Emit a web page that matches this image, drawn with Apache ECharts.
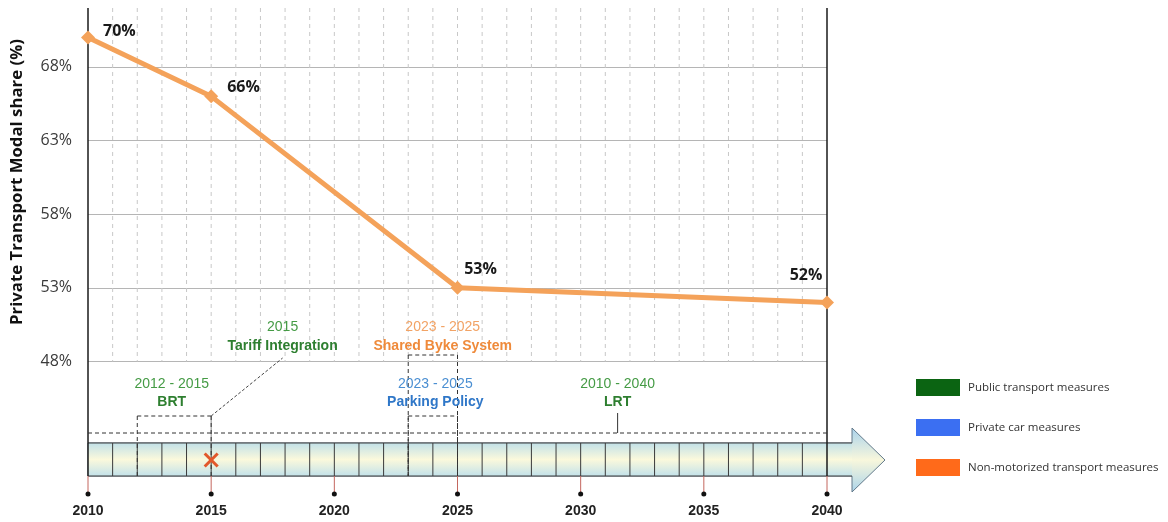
<!DOCTYPE html>
<html>
<head>
<meta charset="utf-8">
<script src="https://cdn.jsdelivr.net/npm/echarts@6/dist/echarts.min.js"></script>
<style>
  html, body { margin: 0; padding: 0; background: #ffffff; }
  #chart { width: 1168px; height: 522px; }
</style>
</head>
<body>
<div id="chart"></div>
<script>
// ---- data ----
const years = [2010, 2015, 2025, 2040];
const modalShare = [70, 66, 53, 52];
const shareTicks = [48, 53, 58, 63, 68];
const yearTicks = [2010, 2015, 2020, 2025, 2030, 2035, 2040];

const measureTypes = ['Public transport measures', 'Private car measures', 'Non-motorized transport measures'];
const measureNames = ['Tariff Integration', 'BRT', 'Shared Byke System', 'Parking Policy', 'LRT'];
const measurePeriods = ['2015', '2012 - 2015', '2023 - 2025', '2023 - 2025', '2010 - 2040'];
const measureStart = [2015, 2012, 2023, 2023, 2010];
const measureEnd = [2015, 2015, 2025, 2025, 2040];
const measureKind = [0, 0, 2, 1, 0];
const crossYears = [2015];

// ---- layout & styling ----
const Y_MIN = 39, Y_MAX = 72;
const typeColors = ['#0b6412', '#3b6ff2', '#ff6a1a'];
const periodColors = ['#459b45', '#4b8fd2', '#f2a365'];
const nameColors = ['#2e7f30', '#2f77c8', '#ef8a3a'];
const lineColor = '#f4a25a';

// label anchor of each measure: [year position, row (0 upper, 1 lower)]
const labelAnchor = [[2017.9, 0], [2013.4, 1], [2024.4, 0], [2024.1, 1], [2031.5, 1]];
// connector style of each measure and its height (px above the timeline base)
const connector = [['leader', -78], ['span', -78], ['span', -139], ['span', -78], ['spanTick', -61]];
// pixel offsets measured upward from the bottom of the plot
const TL = {
  barTop: -51, barBot: -18, headTop: -66, headBot: -2, mid: -34,
  shaftExt: 25, headLen: 58,
  rowPeriod: [-167, -110], rowName: [-148, -92],
  leaderEnd: -136, tickTop: -81
};
// per-point value label placement
const valueLabelPlacement = [
  { position: 'right', offset: [3, -6] },
  { position: 'right', offset: [4, -9] },
  { position: 'top', offset: [23, 2] },
  { position: 'top', offset: [-21, -7] }
];

const chart = echarts.init(document.getElementById('chart'), null, { renderer: 'canvas' });

function vGrad(stops) {
  return new echarts.graphic.LinearGradient(0, 0, 0, 1, stops.map((c, i) => ({ offset: i / (stops.length - 1), color: c })));
}

function renderTimeline(params, api) {
  const first = yearTicks[0], last = yearTicks[yearTicks.length - 1];
  const px = yr => api.coord([yr, Y_MIN])[0];
  const base = api.coord([first, Y_MIN])[1];
  const topY = api.coord([first, Y_MAX])[1];
  const gridFloor = api.coord([first, shareTicks[0]])[1];
  const y = off => base + off;
  const xs = px(first), xe = px(last);
  const g = [];
  const line = (x1, y1, x2, y2, stroke, w, dash) =>
    g.push({ type: 'line', shape: { x1, y1, x2, y2 }, style: { stroke, lineWidth: w, lineDash: dash || null } });

  // yearly guides in the plot area
  for (let yr = first + 1; yr < last; yr++) line(px(yr), topY, px(yr), gridFloor, '#c8c8c8', 1, [4, 4]);

  // timeline arrow
  const shaftEnd = xe + TL.shaftExt, tip = xe + TL.headLen;
  g.push({
    type: 'polygon',
    shape: { points: [[xs, y(TL.barTop)], [shaftEnd, y(TL.barTop)], [shaftEnd, y(TL.headTop)], [tip, y(TL.mid)],
                      [shaftEnd, y(TL.headBot)], [shaftEnd, y(TL.barBot)], [xs, y(TL.barBot)]] },
    style: { fill: vGrad(['#a9d2ec', '#f8f7dc', '#aad3ea']), stroke: '#62798a', lineWidth: 1 }
  });
  g.push({
    type: 'rect',
    shape: { x: xs, y: y(TL.barTop), width: shaftEnd - xs, height: TL.barBot - TL.barTop },
    style: { fill: vGrad(['#c2e1e8', '#fbf9dc', '#c3e2ea']) }
  });
  line(xs, y(TL.barTop), shaftEnd, y(TL.barTop), '#3a3a3a', 1);
  line(xs, y(TL.barBot), shaftEnd, y(TL.barBot), '#3a3a3a', 1);
  for (let yr = first + 1; yr < last; yr++) line(px(yr), y(TL.barTop), px(yr), y(TL.barBot), '#3a3a3a', 1);

  // bounding verticals
  line(xs, topY, xs, y(TL.barBot), '#1a1a1a', 1.5);
  line(xe, topY, xe, y(TL.barBot), '#1a1a1a', 1.5);

  // year ticks below the timeline
  yearTicks.forEach(yr => {
    line(px(yr), y(TL.barBot), px(yr), base, '#c4675f', 1);
    g.push({ type: 'circle', shape: { cx: px(yr), cy: base, r: 2.5 }, style: { fill: '#111' } });
  });

  // connectors between the timeline and each measure label
  measureNames.forEach((name, i) => {
    const [kind, lvl] = connector[i];
    const xa = px(measureStart[i]), xb = px(measureEnd[i]);
    const lx = px(labelAnchor[i][0]);
    if (kind === 'leader') {
      line(xa, y(TL.barTop), xa, y(lvl), '#8a8a8a', 1);
      line(xa, y(lvl), lx, y(TL.leaderEnd), '#444', 1, [3, 2]);
    } else {
      line(xa, y(lvl), xb, y(lvl), '#333', 1, [4, 3]);
      if (kind === 'span') {
        line(xa, y(lvl), xa, y(TL.barBot), '#333', 1, [4, 3]);
        line(xb, y(lvl), xb, y(TL.barBot), '#333', 1, [4, 3]);
      } else {
        line(lx, y(lvl), lx, y(TL.tickTop), '#333', 1);
      }
    }
  });

  // crossed marker on the timeline
  crossYears.forEach(yr => {
    const cx = px(yr), cy = y(TL.mid), h = 6.5;
    line(cx - h, cy - h, cx + h, cy + h, '#e2582b', 3);
    line(cx - h, cy + h, cx + h, cy - h, '#e2582b', 3);
  });

  return { type: 'group', children: g };
}

function measureLabelRenderer(kind) {
  const idx = measureNames.map((_, i) => i).filter(i => measureKind[i] === kind);
  return function (params, api) {
    const i = idx[params.dataIndex];
    const base = api.coord([yearTicks[0], Y_MIN])[1];
    const x = api.coord([labelAnchor[i][0], Y_MIN])[0];
    const row = labelAnchor[i][1];
    return {
      type: 'group',
      children: [
        { type: 'text', style: { text: measurePeriods[i], x, y: base + TL.rowPeriod[row], fill: periodColors[kind],
            fontFamily: 'Liberation Sans', fontSize: 14, align: 'center', verticalAlign: 'middle' } },
        { type: 'text', style: { text: measureNames[i], x, y: base + TL.rowName[row], fill: nameColors[kind],
            fontFamily: 'Liberation Sans', fontWeight: 'bold', fontSize: 14, align: 'center', verticalAlign: 'middle' } }
      ]
    };
  };
}

const measureSeries = measureTypes.map((name, k) => ({
  name,
  type: 'custom',
  coordinateSystem: 'cartesian2d',
  clip: false,
  z: 3,
  itemStyle: { color: typeColors[k] },
  renderItem: measureLabelRenderer(k),
  data: measureNames.map((_, i) => i).filter(i => measureKind[i] === k).map(i => [labelAnchor[i][0], Y_MIN])
}));

const option = {
  animation: false,
  backgroundColor: '#ffffff',
  grid: { left: 88, right: 341, top: 8, bottom: 28, containLabel: false },
  xAxis: {
    type: 'value', min: yearTicks[0], max: yearTicks[yearTicks.length - 1], interval: 5,
    axisLine: { show: false }, axisTick: { show: false }, splitLine: { show: false },
    axisLabel: { margin: 10, fontFamily: 'Liberation Sans', fontWeight: 'bold', fontSize: 14, color: '#222',
                 formatter: v => String(v) }
  },
  yAxis: {
    type: 'value', min: Y_MIN, max: Y_MAX,
    axisLine: { show: false },
    axisTick: { show: false, customValues: shareTicks },
    axisLabel: { customValues: shareTicks, formatter: '{value}%', margin: 16, fontFamily: 'Open Sans', fontSize: 16, color: '#3a3a3a' },
    splitLine: { show: true, lineStyle: { color: '#b5b5b5', width: 1 } }
  },
  legend: {
    data: measureTypes,
    orient: 'vertical', left: 911, top: 374,
    icon: 'rect', itemWidth: 44, itemHeight: 17, itemGap: 23,
    selectedMode: false,
    textStyle: { fontFamily: 'Open Sans', fontSize: 11.5, color: '#333', padding: [0, 0, 0, 3] }
  },
  graphic: [{
    type: 'text', x: 17, y: 182, rotation: Math.PI / 2,
    style: { text: 'Private Transport Modal share (%)', fontFamily: 'Open Sans', fontWeight: 'bold', fontSize: 16.8,
             fill: '#111', align: 'center', verticalAlign: 'middle' }
  }],
  series: [
    {
      type: 'custom', coordinateSystem: 'cartesian2d', clip: false, z: 1, silent: true,
      renderItem: renderTimeline,
      data: [[yearTicks[0], Y_MIN]]
    },
    ...measureSeries,
    {
      name: 'Private transport modal share',
      type: 'line', z: 5, clip: false,
      symbol: 'diamond', symbolSize: 14,
      lineStyle: { color: lineColor, width: 5 },
      itemStyle: { color: lineColor },
      label: { show: true, formatter: p => p.value[1] + '%', fontFamily: 'Open Sans', fontWeight: 'bold', fontSize: 16, color: '#1a1a1a' },
      data: years.map((yr, i) => ({ value: [yr, modalShare[i]], label: valueLabelPlacement[i] }))
    }
  ]
};

chart.setOption(option);
</script>
</body>
</html>
